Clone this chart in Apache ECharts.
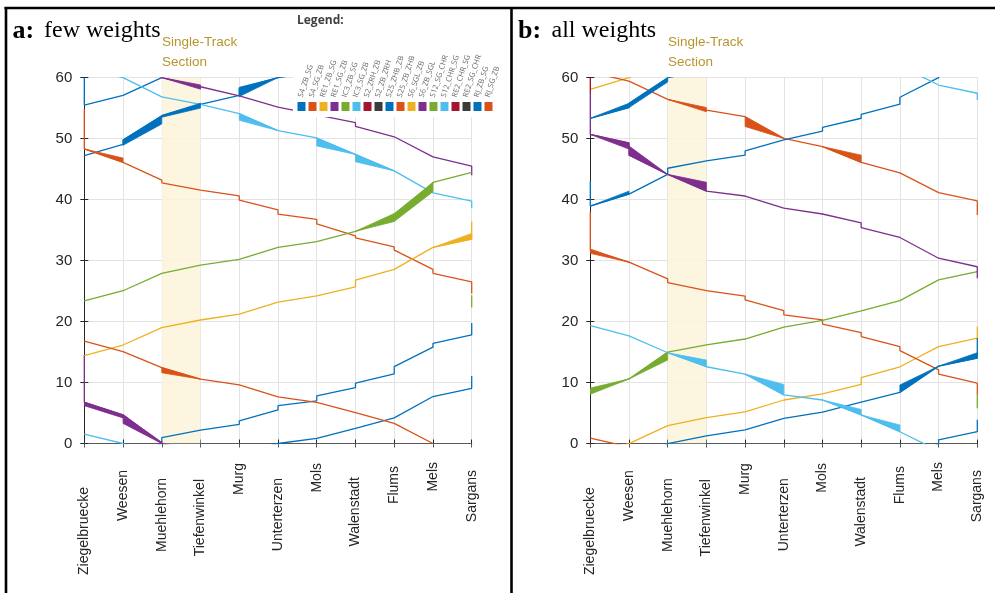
<!DOCTYPE html>
<html>
<head>
<meta charset="utf-8">
<script src="https://cdn.jsdelivr.net/npm/echarts@6/dist/echarts.min.js"></script>
<style>
  html, body { margin: 0; padding: 0; background: #fff; }
  #chart { width: 995px; height: 593px; }
</style>
</head>
<body>
<div id="chart"></div>
<script>
// ---- stations (x axis) and minute ticks (y axis) ----
const STATIONS = ['Ziegelbruecke', 'Weesen', 'Muehlehorn', 'Tiefenwinkel', 'Murg', 'Unterterzen',
                  'Mols', 'Walenstadt', 'Flums', 'Mels', 'Sargans'];
const MINUTE_TICKS = [0, 10, 20, 30, 40, 50, 60];
const SINGLE_TRACK = [2, 3];               // Muehlehorn .. Tiefenwinkel
const LEGEND_NAMES = ['S4_ZB_SG', 'S4_SG_ZB', 'RE1_ZB_SG', 'RE1_SG_ZB', 'IC3_ZB_SG', 'IC3_SG_ZB',
                      'S2_ZRH_ZB', 'S2_ZB_ZRH', 'S25_ZHB_ZB', 'S25_ZB_ZHB', 'S6_SGL_ZB', 'S6_ZB_SGL',
                      'S12_SG_CHR', 'S12_CHR_SG', 'RE2_CHR_SG', 'RE2_SG_CHR', 'RJ_ZB_SG', 'RJ_SG_ZB'];

// ---- train paths: [station index, minute of the hour] ----
// bands: [station A, low A, high A, station B, low B, high B]

// panel a: few weights
const A_BLUE_1 = [[0,60],[0,55.5],[1,57.1],[2,60],[2,0.95],[3,2.2],[4,3.15],[4,3.7],[5,5.5],[5,6.2],[6,7.0],[6,7.8],
                  [7,9.15],[7,9.9],[8,11.4],[8,12.6],[9,15.8],[9,16.4],[10,17.8],[10,19.75]];
const A_BLUE_2 = [[0,47.2],[1,49.05],[1,49.75],[2,53.75],[3,55.6],[3,55.8],[4,57.1],[4,58.2],[5,60],
                  [6,0.85],[7,2.5],[8,4.2],[9,7.7],[10,9.05],[10,11.05]];
const A_BLUE_2_BANDS = [[1,48.9,49.8,2,52.4,53.75],[2,53.5,53.8,3,55.0,55.8],[4,56.9,58.4,5,60,60]];
const A_LIGHTBLUE_1 = [[0,1.55],[1,60],[2,56.85],[3,55.6],[4,54.1],[5,51.3],[6,50.1],[7,47.4],[8,44.7],
                       [9,41.1],[10,39.75],[10,38.6]];
const A_LIGHTBLUE_1_BANDS = [[4,53.0,54.1,5,51.3,51.3],[6,48.8,50.1,7,47.4,47.4],[7,46.2,47.4,8,44.7,44.7]];
const A_PURPLE_1 = [[0,14.5],[0,6.75],[1,4.7],[2,0],[2,60],[3,58.5],[4,57.0],[5,55.15],[6,53.9],[7,52.6],
                    [7,52.0],[8,50.3],[9,47.0],[10,45.5],[10,44.0]];
const A_PURPLE_1_BANDS = [[0,6.2,6.8,1,4.2,4.7],[1,3.3,4.7,2,0,0.2],[2,60,60,3,58.1,58.8]];
const A_ORANGE_1 = [[0,54.8],[0,48.3],[1,46.1],[2,43.2],[2,42.75],[3,41.55],[4,40.6],[4,39.9],[5,38.3],[5,37.6],
                    [6,36.75],[6,36.0],[7,34.05],[7,33.7],[8,32.25],[8,31.7],[9,28.55],[9,27.9],[10,26.5],[10,24.6]];
const A_ORANGE_1_BANDS = [[0,48.3,48.3,1,46.1,46.8]];
const A_GREEN_1 = [[0,23.4],[1,25.05],[2,27.9],[3,29.25],[4,30.2],[5,32.15],[6,33.1],[7,34.8],[8,37.0],
                   [9,42.8],[10,44.45]];
const A_GREEN_1_BANDS = [[7,34.8,34.8,8,36.4,37.7],[8,36.4,37.7,9,41.3,42.8]];
const A_GREEN_2 = [[10,22.3],[10,24.3]];
const A_YELLOW_1 = [[0,14.4],[1,16.15],[2,19.0],[3,20.25],[4,21.2],[5,23.2],[6,24.2],[7,25.7],[7,26.8],
                    [8,28.55],[9,32.15],[10,33.5],[10,36.4]];
const A_YELLOW_1_BANDS = [[9,32.15,32.15,10,33.5,34.45]];
const A_ORANGE_2 = [[0,16.8],[1,15.05],[2,12.45],[3,10.55],[4,9.6],[5,7.65],[6,6.75],[7,5.05],[8,3.3],[9,0]];
const A_ORANGE_2_BANDS = [[2,11.6,12.45,3,10.55,10.55]];

// panel b: all weights
const B_YELLOW_1 = [[0,58.1],[1,60],[2,2.95],[3,4.25],[4,5.2],[5,7.15],[6,8.15],[7,9.7],[7,10.8],[8,12.6],
                    [9,15.9],[10,17.3],[10,19.2]];
const B_ORANGE_1 = [[0,0.9],[1,59.45],[2,56.45],[3,54.7],[4,53.6],[5,50.05],[6,48.7],[7,46.1],[8,44.4],
                    [9,41.15],[10,39.8],[10,37.5]];
const B_ORANGE_1_BANDS = [[2,56.45,56.45,3,54.4,55.1],[4,52.0,53.6,5,50.05,50.05],[6,48.7,48.7,7,46.1,47.3]];
const B_ORANGE_2 = [[0,38.0],[0,31.7],[1,29.75],[2,27.0],[2,26.4],[3,25.1],[4,24.2],[4,23.55],[5,21.8],[5,21.1],
                    [6,20.3],[6,19.6],[7,18.2],[7,17.55],[8,15.9],[8,15.25],[9,12.1],[9,11.4],[10,9.9],[10,8.0]];
const B_ORANGE_2_BANDS = [[0,31.2,31.9,1,29.75,29.75]];
const B_GREEN_1 = [[0,8.6],[1,10.6],[2,15.0],[3,16.2],[4,17.15],[5,19.1],[6,20.2],[7,21.75],[8,23.45],
                   [9,26.85],[10,28.2]];
const B_GREEN_1_BANDS = [[0,8.1,9.1,1,10.6,10.6],[1,10.6,10.6,2,13.7,15.0]];
const B_GREEN_2 = [[10,5.8],[10,8.0]];
const B_PURPLE_1 = [[0,57.5],[0,50.7],[1,49.3],[1,47.3],[2,44.15],[3,41.4],[4,40.6],[5,38.6],[6,37.65],
                    [7,36.2],[7,35.4],[8,33.8],[9,30.4],[10,29.0],[10,27.1]];
const B_PURPLE_1_BANDS = [[0,50.7,50.7,1,48.3,49.3],[1,47.3,48.8,2,44.15,44.15],[2,44.15,44.15,3,41.4,42.85]];
const B_BLUE_1 = [[0,53.35],[1,55.1],[1,55.8],[2,60],[3,1.25],[4,2.25],[5,4.15],[6,5.15],[7,6.8],[8,8.4],
                  [9,12.7],[10,14.0],[10,17.3]];
const B_BLUE_1_BANDS = [[0,53.35,53.35,1,55.1,55.8],[1,55.1,55.8,2,59.3,60],[8,8.4,9.6,9,12.7,12.7],
                        [9,12.7,12.7,10,14.0,14.9]];
const B_BLUE_2 = [[0,43.0],[0,38.95],[1,40.9],[2,44.15],[2,45.15],[3,46.35],[4,47.3],[4,48.0],[5,49.8],
                  [6,51.25],[6,51.85],[7,53.35],[7,54.0],[8,55.65],[8,56.8],[9,60],[9,0.6],[10,1.95],[10,3.9]];
const B_BLUE_2_BANDS = [[0,38.95,38.95,1,40.9,41.4]];
const B_LIGHTBLUE_1 = [[0,19.35],[1,17.65],[2,14.9],[3,12.6],[4,11.4],[5,8.0],[6,7.15],[7,4.7],[8,1.95],
                       [9,58.8],[10,57.45],[10,56.35]];
const B_LIGHTBLUE_1_BANDS = [[2,14.9,14.9,3,12.6,13.7],[4,11.4,11.4,5,8.0,9.7],[6,7.15,7.15,7,4.7,5.6],
                             [7,4.7,4.7,8,1.95,3.05]];
const B_DARKRED_1 = [[0,57.5],[0,60]];

// ---- styling ----
const C = {
  blue: '#0072BD', orange: '#D95319', yellow: '#EDB120', purple: '#7E2F8E',
  green: '#77AC30', lightblue: '#4DBEEE', darkred: '#A2142F', darkgray: '#3B3B3B'
};
const LEGEND_COLORS = [C.blue, C.orange, C.yellow, C.purple, C.green, C.lightblue, C.darkred, C.darkgray];
const AXIS_COLOR = '#262626';
const GRID_COLOR = '#E3E3E3';
const SHADE_COLOR = '#FCF3DA';
const NOTE_COLOR = '#B8962E';
const LABEL_GAP = [43.5, 26.5, 34.5, 35.5, 19.5, 34.5, 19.5, 33.5, 22.5, 18.5, 26.5];

const PANELS = [
  {
    grid: { left: 84.3, top: 77.6, width: 387.4, height: 365.9 },
    paths: [
      [A_BLUE_1, C.blue], [A_BLUE_2, C.blue], [A_LIGHTBLUE_1, C.lightblue], [A_PURPLE_1, C.purple],
      [A_ORANGE_1, C.orange], [A_GREEN_1, C.green], [A_GREEN_2, C.green], [A_YELLOW_1, C.yellow],
      [A_ORANGE_2, C.orange]
    ],
    bands: [
      [A_BLUE_2_BANDS, C.blue], [A_LIGHTBLUE_1_BANDS, C.lightblue], [A_PURPLE_1_BANDS, C.purple],
      [A_ORANGE_1_BANDS, C.orange], [A_GREEN_1_BANDS, C.green], [A_YELLOW_1_BANDS, C.yellow],
      [A_ORANGE_2_BANDS, C.orange]
    ]
  },
  {
    grid: { left: 590.3, top: 77.7, width: 387.0, height: 365.9 },
    paths: [
      [B_YELLOW_1, C.yellow], [B_ORANGE_1, C.orange], [B_ORANGE_2, C.orange], [B_GREEN_1, C.green],
      [B_GREEN_2, C.green], [B_PURPLE_1, C.purple], [B_BLUE_1, C.blue], [B_BLUE_2, C.blue],
      [B_LIGHTBLUE_1, C.lightblue], [B_DARKRED_1, C.darkred]
    ],
    bands: [
      [B_ORANGE_1_BANDS, C.orange], [B_ORANGE_2_BANDS, C.orange], [B_GREEN_1_BANDS, C.green],
      [B_PURPLE_1_BANDS, C.purple], [B_BLUE_1_BANDS, C.blue], [B_BLUE_2_BANDS, C.blue],
      [B_LIGHTBLUE_1_BANDS, C.lightblue]
    ]
  }
];

// Minutes wrap at the hour: make each path continuous, then draw it
// shifted by one hour either way and let the grid clip it.
function unwrap(path) {
  const out = [];
  let offset = 0, prev = null;
  for (const [s, t] of path) {
    let v = t + offset;
    if (prev !== null) {
      while (v - prev > 30) { offset -= 60; v -= 60; }
      while (prev - v > 30) { offset += 60; v += 60; }
    }
    out.push([s, v]);
    prev = v;
  }
  return out;
}

const xAxes = [], yAxes = [], grids = [], series = [];

PANELS.forEach((panel, gi) => {
  grids.push(Object.assign({ containLabel: false }, panel.grid));
  const xi = gi * 2, yi = gi * 2;
  const rich = {};
  STATIONS.forEach((name, i) => {
    rich['s' + i] = {
      fontSize: 14, fontFamily: 'Liberation Sans', color: AXIS_COLOR,
      padding: [0, LABEL_GAP[i] - 6, 0, 0]
    };
  });
  xAxes.push({
    type: 'value', gridIndex: gi, position: 'bottom', min: 0, max: STATIONS.length - 1, interval: 1,
    axisLine: { show: true, lineStyle: { color: AXIS_COLOR, width: 1 } },
    axisTick: { show: true, inside: true, length: 4, lineStyle: { color: AXIS_COLOR } },
    splitLine: { show: true, lineStyle: { color: GRID_COLOR, width: 1 } },
    axisLabel: {
      rotate: 90, margin: 6, showMinLabel: true, showMaxLabel: true, hideOverlap: false,
      align: 'right', verticalAlign: 'middle',
      formatter: v => '{s' + v + '|' + STATIONS[v] + '}',
      rich
    }
  });
  xAxes.push({
    type: 'value', gridIndex: gi, position: 'top', min: 0, max: STATIONS.length - 1, interval: 1,
    axisLine: { show: true, lineStyle: { color: '#5a5a5a', width: 1 } },
    axisTick: { show: true, inside: true, length: 4, lineStyle: { color: '#5a5a5a' } },
    splitLine: { show: false }, axisLabel: { show: false }
  });
  yAxes.push({
    type: 'value', gridIndex: gi, position: 'left', min: 0, max: 60, interval: 10,
    axisLine: { show: true, lineStyle: { color: AXIS_COLOR, width: 1 } },
    axisTick: { show: true, inside: true, length: 4, lineStyle: { color: AXIS_COLOR } },
    splitLine: { show: true, lineStyle: { color: GRID_COLOR, width: 1 } },
    axisLabel: {
      margin: 12, fontSize: 15, fontFamily: 'Liberation Sans', color: AXIS_COLOR,
      showMinLabel: true, showMaxLabel: true,
      formatter: v => (MINUTE_TICKS.includes(v) ? String(v) : '')
    }
  });
  yAxes.push({
    type: 'value', gridIndex: gi, position: 'right', min: 0, max: 60, interval: 10,
    axisLine: { show: true, lineStyle: { color: AXIS_COLOR, width: 1 } },
    axisTick: { show: true, inside: true, length: 4, lineStyle: { color: AXIS_COLOR } },
    splitLine: { show: false }, axisLabel: { show: false }
  });

  // single-track section shading
  series.push({
    type: 'custom', xAxisIndex: xi, yAxisIndex: yi, silent: true, z: 1, clip: true,
    data: [[SINGLE_TRACK[0], SINGLE_TRACK[1]]],
    renderItem(params, api) {
      const p0 = api.coord([api.value(0), 60]);
      const p1 = api.coord([api.value(1), 0]);
      return {
        type: 'rect',
        shape: { x: p0[0], y: p0[1], width: p1[0] - p0[0], height: p1[1] - p0[1] },
        style: { fill: SHADE_COLOR, opacity: 0.85 }
      };
    }
  });

  panel.paths.forEach(([path, color]) => {
    const base = unwrap(path);
    [-60, 0, 60].forEach(shift => {
      series.push({
        type: 'line', xAxisIndex: xi, yAxisIndex: yi, silent: true, clip: true, z: 3,
        symbol: 'none', showSymbol: false, animation: false,
        data: base.map(([s, t]) => [s, t + shift]),
        lineStyle: { color, width: 1.3 }
      });
    });
  });

  panel.bands.forEach(([bands, color]) => {
    series.push({
      type: 'custom', xAxisIndex: xi, yAxisIndex: yi, silent: true, clip: true, z: 4,
      data: bands,
      renderItem(params, api) {
        const pts = [
          api.coord([api.value(0), api.value(1)]),
          api.coord([api.value(3), api.value(4)]),
          api.coord([api.value(3), api.value(5)]),
          api.coord([api.value(0), api.value(2)])
        ];
        return {
          type: 'polygon', shape: { points: pts },
          style: { fill: color, stroke: color, lineWidth: 0.8 }
        };
      }
    });
  });
});

// ---- titles, notes, frame and the train legend ----
const graphics = [];
const TITLE_Y = 31;
[
  { x: 12.5, bold: 'a:', rest: 'few weights', restX: 44 },
  { x: 518, bold: 'b:', rest: 'all weights', restX: 551.5 }
].forEach(t => {
  graphics.push({ type: 'text', z: 100, style: { text: t.bold, x: t.x, y: TITLE_Y, verticalAlign: 'middle',
    font: 'bold 26px "Liberation Serif"', fill: '#000' } });
  graphics.push({ type: 'text', z: 100, style: { text: t.rest, x: t.restX, y: TITLE_Y, verticalAlign: 'middle',
    font: '24px "Liberation Serif"', fill: '#000' } });
});
[162, 668].forEach(x => {
  graphics.push({ type: 'text', z: 100, style: { text: 'Single-Track', x, y: 42.7, verticalAlign: 'middle',
    font: '13.5px "Liberation Sans"', fill: NOTE_COLOR } });
  graphics.push({ type: 'text', z: 100, style: { text: 'Section', x, y: 62.3, verticalAlign: 'middle',
    font: '13.5px "Liberation Sans"', fill: NOTE_COLOR } });
});

// legend box
graphics.push({ type: 'rect', z: 90, shape: { x: 293, y: 10, width: 216, height: 107 }, style: { fill: '#fff' } });
graphics.push({ type: 'text', z: 100, style: { text: 'Legend:', x: 297, y: 20.5, verticalAlign: 'middle',
  font: 'bold 12px "Open Sans"', fill: '#404040' } });
LEGEND_NAMES.forEach((name, i) => {
  const x = 297.5 + i * 11.0;
  graphics.push({ type: 'rect', z: 100, shape: { x, y: 102, width: 8, height: 9 },
    style: { fill: LEGEND_COLORS[i % LEGEND_COLORS.length] } });
  graphics.push({ type: 'text', z: 100, x: x + 3, y: 97, rotation: 72 * Math.PI / 180,
    style: { text: name, x: 0, y: 0, align: 'left', verticalAlign: 'middle',
      font: '7.5px "Open Sans"', fill: '#6a6a6a' } });
});

// panel frame
const FRAME = { stroke: '#000', lineWidth: 2.6 };
graphics.push({ type: 'line', z: 110, shape: { x1: 4.5, y1: 8, x2: 995, y2: 8 }, style: FRAME });
graphics.push({ type: 'line', z: 110, shape: { x1: 6, y1: 7, x2: 6, y2: 593 }, style: FRAME });
graphics.push({ type: 'line', z: 110, shape: { x1: 511.5, y1: 7, x2: 511.5, y2: 593 }, style: FRAME });

const chart = echarts.init(document.getElementById('chart'), null, { renderer: 'canvas' });
chart.setOption({
  animation: false,
  backgroundColor: '#fff',
  grid: grids,
  xAxis: xAxes,
  yAxis: yAxes,
  series,
  graphic: { elements: graphics }
});
</script>
</body>
</html>
